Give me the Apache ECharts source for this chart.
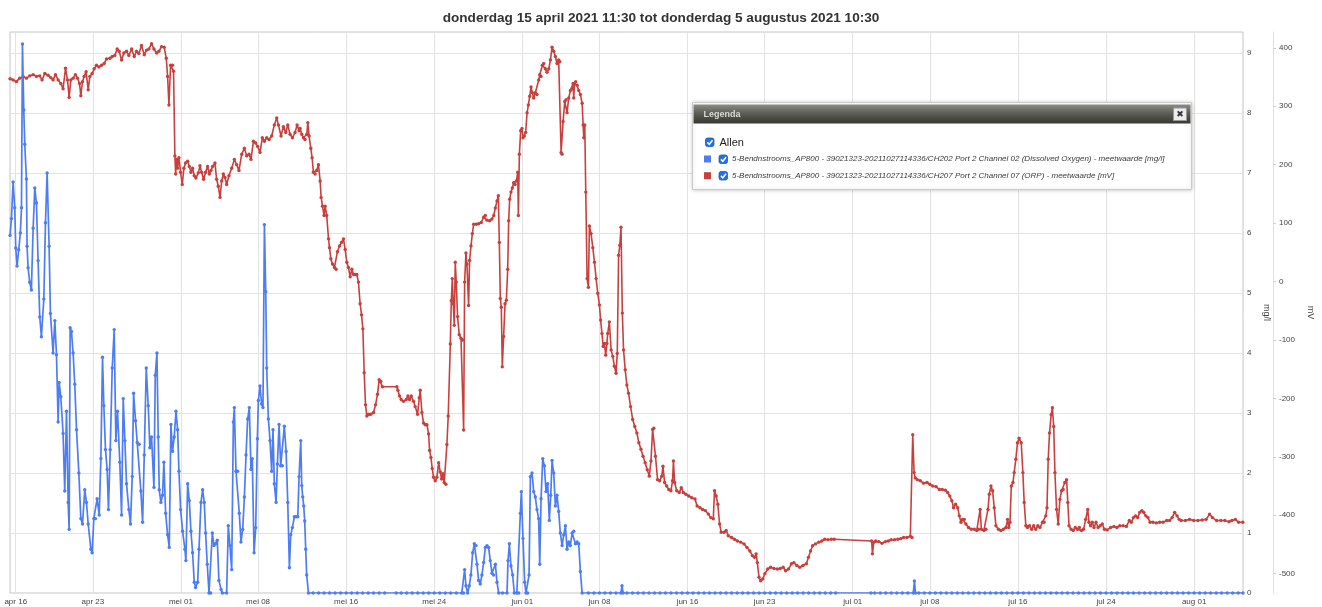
<!DOCTYPE html>
<html>
<head>
<meta charset="utf-8">
<title>Meetwaarden</title>
<script src="https://cdn.jsdelivr.net/npm/echarts@6.0.0/dist/echarts.min.js"></script>
<style>
  html, body { margin: 0; padding: 0; background: #fff; }
  #chart { width: 1322px; height: 607px; }
</style>
</head>
<body>
<div id="chart"></div>
<script>
const titleText = 'donderdag 15 april 2021 11:30 tot donderdag 5 augustus 2021 10:30'
const rangeStart = '2021-04-15 11:30'
const rangeEnd = '2021-08-05 10:30'
// day offsets in the series below count from this moment
const dayZero = '2021-04-16 00:00'

const tickDates = ['2021-04-16', '2021-04-23', '2021-05-01', '2021-05-08', '2021-05-16', '2021-05-24', '2021-06-01', '2021-06-08',
  '2021-06-16', '2021-06-23', '2021-07-01', '2021-07-08', '2021-07-16', '2021-07-24', '2021-08-01']
const tickLabels = ['apr 16', 'apr 23', 'mei 01', 'mei 08', 'mei 16', 'mei 24', 'jun 01', 'jun 08',
  'jun 16', 'jun 23', 'jul 01', 'jul 08', 'jul 16', 'jul 24', 'aug 01']
const mglTicks = [0, 1, 2, 3, 4, 5, 6, 7, 8, 9]
const mvTicks = [-500, -400, -300, -200, -100, 0, 100, 200, 300, 400]

const seriesNames = [
  '5-Bendnstrooms_AP800 - 39021323-20211027114336/CH202 Port 2 Channel 02 (Dissolved Oxygen) - meetwaarde [mg/l]',
  '5-Bendnstrooms_AP800 - 39021323-20211027114336/CH207 Port 2 Channel 07 (ORP) - meetwaarde [mV]'
]

// [day offset, mg/l]
const oxygen = [
  [-0.52, 5.96], [-0.39, 6.24], [-0.24, 6.85], [-0.09, 6.42], [0, 5.75], [0.12, 5.45], [0.27, 5.72], [0.42, 6.0], [0.52, 6.42], [0.61, 9.15],
  [0.73, 8.05], [0.82, 7.48], [0.97, 6.9], [1.03, 5.78], [1.12, 5.42], [1.27, 5.18], [1.42, 5.05], [1.58, 6.08], [1.73, 6.75], [1.88, 6.5],
  [2.03, 5.54], [2.18, 4.6], [2.33, 4.27], [2.55, 4.9], [2.7, 6.17], [2.85, 7.0], [3.03, 5.78], [3.15, 4.66], [3.39, 4.0], [3.55, 4.54],
  [3.7, 3.97], [3.85, 2.85], [3.94, 3.51], [4.09, 3.27], [4.3, 2.66], [4.45, 1.7], [4.61, 3.03], [4.76, 1.51], [4.85, 1.06], [4.94, 4.42],
  [5.06, 4.36], [5.21, 4.0], [5.36, 3.48], [5.52, 2.72], [5.73, 2.0], [5.91, 1.24], [6.06, 1.15], [6.27, 1.72], [6.42, 1.51], [6.58, 1.15],
  [6.82, 0.73], [6.94, 0.67], [7.09, 1.24], [7.24, 1.24], [7.39, 1.57], [7.58, 1.3], [7.73, 2.24], [7.88, 3.93], [8.0, 3.12], [8.15, 2.39],
  [8.3, 2.06], [8.42, 1.39], [8.58, 2.39], [8.76, 3.75], [8.94, 4.39], [9.09, 2.54], [9.24, 3.03], [9.45, 2.18], [9.61, 1.3], [9.76, 3.24],
  [9.91, 2.54], [10.06, 1.82], [10.27, 1.39], [10.42, 1.15], [10.58, 1.94], [10.7, 3.33], [10.88, 2.87], [11.03, 2.51], [11.21, 2.48], [11.36, 1.7],
  [11.52, 1.18], [11.67, 2.3], [11.85, 3.75], [12.03, 3.12], [12.18, 2.42], [12.33, 2.6], [12.55, 1.76], [12.67, 3.63], [12.82, 4.0], [12.94, 2.6],
  [13.03, 1.72], [13.18, 1.51], [13.33, 1.63], [13.45, 2.18], [13.61, 1.33], [13.79, 0.97], [13.94, 0.76], [14.09, 2.81], [14.24, 2.36], [14.39, 2.6],
  [14.55, 3.03], [14.7, 2.72], [14.82, 2.03], [14.97, 1.39], [15.15, 1.03], [15.36, 0.73], [15.45, 0.54], [15.61, 1.82], [15.76, 1.54], [15.91, 1.03],
  [16.06, 0.67], [16.21, 0.18], [16.33, 0.09], [16.52, 0.18], [16.64, 0.73], [16.82, 1.51], [16.97, 1.72], [17.12, 1.51], [17.24, 1.0], [17.39, 0.48],
  [17.55, 0], [17.7, 0], [17.85, 1.0], [18.0, 0.79], [18.15, 0.82], [18.3, 0.88], [18.45, 0.21], [18.64, 0.06], [18.76, 0], [19.15, 0],
  [19.3, 1.12], [19.45, 0.79], [19.61, 0.39], [19.76, 2.85], [19.85, 3.09], [20.0, 2.03], [20.15, 2.03], [20.3, 1.33], [20.45, 0.85], [20.61, 1.06],
  [20.76, 1.6], [20.91, 2.3], [21.06, 2.9], [21.21, 3.09], [21.36, 2.06], [21.48, 2.24], [21.64, 0.67], [21.79, 1.09], [21.94, 2.57], [22.03, 3.21],
  [22.18, 3.45], [22.33, 3.15], [22.45, 3.09], [22.58, 6.14], [22.7, 5.02], [22.79, 3.75], [22.94, 2.9], [23.09, 2.54], [23.24, 2.03], [23.36, 2.72],
  [23.48, 1.82], [23.64, 1.51], [23.76, 2.15], [23.91, 2.81], [24.06, 2.12], [24.21, 2.12], [24.39, 2.78], [24.55, 2.36], [24.7, 1.51], [24.85, 0.42],
  [24.97, 0.97], [25.12, 1.09], [25.3, 1.27], [25.45, 1.27], [25.61, 1.27], [25.73, 1.94], [25.88, 2.54], [25.97, 1.79], [26.06, 1.6], [26.15, 1.45],
  [26.24, 1.2], [26.33, 0.73], [26.42, 0.3], [26.58, 0],
  [27, 0], [27.5, 0], [28, 0], [28.5, 0], [29, 0], [29.5, 0], [30, 0], [30.5, 0], [31, 0], [31.5, 0], [32, 0], [32.5, 0], [33, 0], [33.5, 0],
  [34.55, 0], [35, 0], [35.5, 0], [36, 0], [36.5, 0], [37, 0], [37.5, 0], [38, 0], [38.5, 0], [39, 0], [39.5, 0], [40, 0], [40.5, 0], [40.67, 0],
  [40.76, 0.39], [40.88, 0.12], [41.03, 0], [41.18, 0.12], [41.33, 0.3], [41.49, 0.67], [41.64, 0.82], [41.79, 0.79], [41.88, 0.48], [42.03, 0.21],
  [42.18, 0.15], [42.33, 0.3], [42.49, 0.51], [42.64, 0.76], [42.79, 0.79], [42.94, 0.76], [43.09, 0.54], [43.24, 0.33], [43.39, 0.3], [43.55, 0.48],
  [43.7, 0.18], [43.85, 0], [44.2, 0], [44.61, 0], [44.7, 0.54], [44.82, 0.82], [44.97, 0.45], [45.12, 0.3], [45.27, 0], [45.5, 0],
  [45.67, 0], [45.82, 1.33], [45.91, 1.69], [46.06, 0.91], [46.21, 0.18], [46.33, 0], [46.48, 0], [46.61, 0.3], [46.73, 1.94], [46.88, 2.0],
  [47.03, 1.69], [47.18, 1.6], [47.33, 1.39], [47.48, 1.24], [47.58, 0.48], [47.7, 1.57], [47.85, 2.24], [48.0, 2.12], [48.15, 1.69], [48.3, 1.82],
  [48.45, 1.21], [48.58, 1.63], [48.7, 2.21], [48.85, 2.0], [49.0, 1.45], [49.15, 1.63], [49.3, 1.36], [49.45, 1.0], [49.61, 0.79], [49.76, 0.97],
  [49.91, 1.12], [50.06, 0.73], [50.21, 0.85], [50.36, 0.79], [50.52, 1.0], [50.67, 1.03], [50.82, 0.82], [50.97, 0.85], [51.12, 0.82], [51.27, 0.36],
  [51.43, 0], [52, 0], [52.5, 0], [53, 0], [53.5, 0], [54, 0], [54.5, 0], [54.95, 0], [55.05, 0.12], [55.15, 0],
  [55.5, 0], [56, 0], [56.5, 0], [57, 0], [57.5, 0], [58, 0], [58.5, 0], [59, 0], [59.5, 0], [60, 0],
  [60.5, 0], [61, 0], [61.5, 0], [62, 0], [62.5, 0], [63, 0], [63.5, 0], [64, 0], [64.5, 0], [65, 0],
  [65.5, 0], [66, 0], [66.5, 0], [67, 0], [67.5, 0], [68, 0], [68.5, 0], [69, 0], [69.5, 0], [70, 0],
  [70.5, 0], [71, 0], [71.5, 0], [72, 0], [72.5, 0], [73, 0], [73.5, 0], [74, 0], [74.45, 0],
  [77.65, 0], [78, 0], [78.5, 0], [79, 0], [79.5, 0], [80, 0], [80.5, 0], [81, 0], [81.5, 0], [81.6, 0.2],
  [81.7, 0], [82, 0], [82.5, 0], [83, 0], [83.5, 0], [84, 0], [84.5, 0], [85, 0], [85.5, 0], [86, 0],
  [86.5, 0], [87, 0], [87.5, 0], [88, 0], [88.5, 0], [89, 0], [89.5, 0], [90, 0], [90.5, 0], [91, 0],
  [91.5, 0], [92, 0], [92.5, 0], [93, 0], [93.5, 0], [94, 0], [94.5, 0], [95, 0], [95.5, 0], [96, 0],
  [96.5, 0], [97, 0], [97.5, 0], [98, 0], [98.5, 0], [99, 0], [99.5, 0], [100, 0], [100.5, 0], [101, 0],
  [101.5, 0], [102, 0], [102.5, 0], [103, 0], [103.5, 0], [104, 0], [104.5, 0], [105, 0], [105.5, 0], [106, 0],
  [106.5, 0], [107, 0], [107.5, 0], [108, 0], [108.5, 0], [109, 0], [109.5, 0], [110, 0], [110.5, 0], [111, 0],
  [111.44, 0]
]

// [day offset, mV]
const orp = [
  [-0.52, 347], [-0.24, 345], [0.06, 342], [0.36, 348], [0.67, 351], [0.97, 348], [1.27, 352], [1.58, 354], [1.88, 351], [2.18, 352],
  [2.39, 345], [2.64, 356], [2.94, 353], [3.18, 349], [3.39, 345], [3.61, 354], [3.85, 345], [4.09, 339], [4.3, 330], [4.52, 365],
  [4.7, 345], [4.85, 315], [5.0, 345], [5.21, 348], [5.42, 354], [5.61, 348], [5.79, 339], [5.91, 318], [6.06, 342], [6.21, 351],
  [6.39, 359], [6.58, 328], [6.73, 351], [6.94, 356], [7.12, 364], [7.33, 370], [7.55, 367], [7.79, 370], [8.03, 373], [8.24, 381],
  [8.55, 382], [8.76, 385], [9.0, 387], [9.21, 398], [9.39, 394], [9.61, 379], [9.82, 391], [10.06, 394], [10.27, 387], [10.52, 398],
  [10.76, 385], [10.97, 394], [11.18, 390], [11.42, 404], [11.67, 388], [11.88, 396], [12.09, 398], [12.33, 407], [12.55, 398], [12.79, 391],
  [13.0, 394], [13.24, 402], [13.48, 401], [13.67, 382], [13.79, 351], [13.91, 302], [14.06, 370], [14.24, 370], [14.33, 360], [14.45, 215],
  [14.52, 184], [14.61, 209], [14.7, 194], [14.82, 212], [14.97, 187], [15.12, 166], [15.27, 194], [15.42, 203], [15.61, 206], [15.76, 197],
  [15.91, 187], [16.06, 194], [16.21, 181], [16.36, 177], [16.58, 186], [16.73, 198], [16.88, 187], [17.06, 175], [17.24, 187], [17.42, 197],
  [17.58, 184], [17.73, 190], [17.88, 197], [18.09, 203], [18.24, 175], [18.39, 163], [18.55, 144], [18.7, 172], [18.85, 184], [19.0, 178],
  [19.15, 166], [19.36, 181], [19.61, 194], [19.85, 209], [20.06, 200], [20.27, 190], [20.52, 218], [20.76, 228], [20.97, 215], [21.18, 218],
  [21.36, 209], [21.58, 240], [21.79, 237], [21.97, 231], [22.18, 221], [22.39, 246], [22.58, 240], [22.79, 246], [23.0, 243], [23.24, 249],
  [23.48, 268], [23.7, 280], [23.85, 268], [24.09, 249], [24.3, 265], [24.52, 255], [24.7, 268], [24.91, 252], [25.12, 246], [25.36, 255],
  [25.55, 268], [25.73, 258], [25.82, 262], [25.97, 252], [26.12, 246], [26.27, 243], [26.43, 252], [26.52, 272], [26.64, 249], [26.79, 228],
  [26.91, 212], [27.03, 187], [27.18, 184], [27.33, 190], [27.49, 200], [27.64, 172], [27.73, 144], [27.85, 129], [28.0, 113], [28.09, 129],
  [28.24, 113], [28.4, 73], [28.49, 58], [28.61, 39], [28.76, 30], [28.94, 24], [29.09, 21], [29.21, 51], [29.4, 61], [29.58, 67],
  [29.76, 73], [29.91, 55], [30.06, 33], [30.21, 24], [30.37, 8], [30.52, 21], [30.67, 12], [30.82, 12], [30.97, 12], [31.12, -1],
  [31.27, -38], [31.4, -57], [31.52, -81], [31.64, -156], [31.76, -211], [31.88, -230], [32.03, -227], [32.24, -227], [32.49, -224], [32.67, -211],
  [32.85, -193], [33.0, -168], [33.15, -171], [33.3, -180], [34.61, -180], [34.7, -186], [34.85, -196], [35.0, -202], [35.21, -205], [35.46, -202],
  [35.61, -196], [35.76, -202], [35.91, -196], [36.12, -205], [36.27, -214], [36.49, -227], [36.64, -199], [36.73, -186], [36.88, -224], [37.03, -242],
  [37.18, -245], [37.34, -245], [37.49, -261], [37.58, -289], [37.7, -301], [37.82, -320], [37.94, -335], [38.09, -341], [38.24, -335], [38.4, -310],
  [38.55, -326], [38.67, -338], [38.79, -329], [38.91, -344], [39.06, -347], [39.15, -279], [39.27, -230], [39.46, -107], [39.55, -33], [39.64, 5],
  [39.73, -38], [39.82, -75], [39.91, 33], [40.0, -1], [40.12, -60], [40.27, -91], [40.43, -97], [40.58, -100], [40.67, -254], [40.76, -1],
  [40.88, 49], [40.97, 30], [41.12, -41], [41.21, 36], [41.34, 61], [41.46, 82], [41.58, 98], [41.82, 98], [42.03, 99], [42.27, 101],
  [42.49, 110], [42.64, 113], [42.79, 105], [43.03, 104], [43.24, 107], [43.4, 113], [43.55, 126], [43.7, 138], [43.82, 147], [43.91, 67],
  [44.0, -29], [44.09, -44], [44.18, -146], [44.3, -94], [44.43, -38], [44.55, -32], [44.67, 21], [44.76, 104], [44.85, 141], [44.97, 153],
  [45.09, 160], [45.21, 169], [45.34, 166], [45.46, 172], [45.58, 187], [45.64, 113], [45.73, 218], [45.85, 258], [45.97, 262], [46.06, 246],
  [46.18, 249], [46.3, 255], [46.43, 289], [46.55, 302], [46.67, 317], [46.79, 333], [46.91, 323], [47.03, 314], [47.18, 323], [47.33, 320],
  [47.49, 345], [47.58, 354], [47.7, 351], [47.82, 370], [47.94, 373], [48.09, 364], [48.24, 358], [48.4, 364], [48.55, 379], [48.7, 401],
  [48.85, 394], [49.0, 385], [49.15, 373], [49.3, 379], [49.4, 376], [49.52, 221], [49.61, 218], [49.7, 274], [49.85, 308], [49.97, 311],
  [50.06, 289], [50.21, 314], [50.37, 327], [50.52, 330], [50.61, 339], [50.67, 314], [50.73, 339], [50.85, 342], [50.97, 336], [51.12, 327],
  [51.27, 320], [51.43, 305], [51.52, 268], [51.58, 246], [51.67, 268], [51.76, 153], [51.88, 5], [52.0, -10], [52.09, 95], [52.24, 82],
  [52.4, 58], [52.55, 33], [52.7, 5], [52.85, -20], [53.0, -40], [53.11, -66], [53.23, -89], [53.34, -111], [53.45, -106], [53.57, -126],
  [53.68, -106], [53.75, -89], [53.9, -69], [54.06, -117], [54.21, -128], [54.36, -145], [54.51, -157], [54.62, -123], [54.74, 45], [54.85, 62],
  [54.96, 93], [55.08, -54], [55.19, -117], [55.34, -151], [55.49, -177], [55.64, -191], [55.83, -214], [56.02, -236], [56.21, -248], [56.4, -259],
  [56.58, -276], [56.77, -287], [56.96, -299], [57.15, -310], [57.34, -322], [57.53, -333], [57.68, -307], [57.83, -253], [57.94, -251], [58.09, -299],
  [58.28, -339], [58.47, -341], [58.66, -333], [58.77, -316], [58.92, -344], [59.11, -350], [59.3, -356], [59.49, -358], [59.64, -341], [59.72, -307],
  [59.83, -344], [60.02, -358], [60.25, -361], [60.43, -353], [60.62, -361], [60.85, -364], [61.11, -367], [61.38, -370], [61.68, -372], [61.87, -384],
  [62.13, -387], [62.36, -390], [62.62, -392], [62.89, -398], [63.11, -404], [63.34, -406], [63.45, -358], [63.6, -367], [63.75, -381], [63.91, -415],
  [64.06, -429], [64.32, -429], [64.51, -426], [64.7, -435], [65.0, -438], [65.26, -441], [65.53, -444], [65.83, -446], [66.13, -449], [66.4, -455],
  [66.66, -461], [66.89, -469], [67.08, -472], [67.23, -466], [67.34, -481], [67.49, -506], [67.64, -512], [67.83, -509], [68.02, -500], [68.28, -492],
  [68.55, -489], [68.85, -491], [69.15, -492], [69.42, -491], [69.68, -489], [69.91, -495], [70.17, -492], [70.43, -483], [70.66, -481], [70.92, -486],
  [71.19, -489], [71.49, -486], [71.79, -483], [71.98, -472], [72.17, -461], [72.36, -452], [72.62, -449], [72.92, -446], [73.19, -444], [73.45, -441],
  [73.75, -442], [74.06, -441], [74.32, -441], [77.72, -444], [77.79, -466], [77.91, -446], [78.09, -444], [78.36, -445], [78.66, -448], [78.96, -445],
  [79.23, -444], [79.49, -442], [79.79, -442], [80.09, -441], [80.36, -440], [80.62, -438], [80.92, -438], [81.23, -436], [81.38, -438], [81.45, -262],
  [81.57, -327], [81.68, -336], [81.87, -339], [82.13, -341], [82.43, -345], [82.74, -344], [83.0, -347], [83.26, -350], [83.57, -351], [83.87, -356],
  [84.13, -356], [84.4, -357], [84.62, -361], [84.81, -367], [85.0, -375], [85.15, -387], [85.34, -381], [85.53, -387], [85.68, -401], [85.83, -412],
  [85.98, -407], [86.13, -407], [86.28, -415], [86.51, -421], [86.77, -424], [87.04, -424], [87.26, -426], [87.42, -424], [87.57, -390], [87.68, -424],
  [87.91, -426], [88.09, -424], [88.28, -390], [88.4, -364], [88.55, -350], [88.7, -358], [88.85, -387], [89.0, -418], [89.23, -424], [89.45, -426],
  [89.68, -424], [89.91, -421], [90.06, -407], [90.17, -421], [90.28, -412], [90.4, -350], [90.55, -344], [90.66, -327], [90.81, -304], [90.96, -276],
  [91.11, -268], [91.3, -276], [91.45, -327], [91.57, -378], [91.72, -418], [91.87, -421], [92.06, -418], [92.25, -424], [92.43, -418], [92.62, -424],
  [92.81, -418], [93.0, -421], [93.23, -412], [93.38, -412], [93.53, -401], [93.64, -387], [93.75, -304], [93.87, -259], [94.02, -228], [94.13, -216],
  [94.25, -248], [94.36, -327], [94.51, -390], [94.66, -415], [94.81, -373], [94.96, -358], [95.11, -356], [95.26, -344], [95.42, -339], [95.53, -378],
  [95.64, -418], [95.83, -424], [96.02, -426], [96.21, -421], [96.4, -424], [96.58, -421], [96.77, -426], [96.96, -424], [97.15, -407], [97.34, -390],
  [97.45, -412], [97.6, -418], [97.75, -412], [97.91, -421], [98.09, -412], [98.28, -421], [98.47, -418], [98.66, -415], [98.85, -424], [99.11, -425],
  [99.42, -421], [99.72, -419], [99.98, -421], [100.25, -418], [100.55, -418], [100.85, -419], [101.11, -409], [101.3, -412], [101.49, -404], [101.68, -401],
  [101.87, -404], [102.06, -395], [102.25, -392], [102.43, -395], [102.62, -401], [102.81, -404], [103.0, -412], [103.26, -412], [103.57, -413], [103.87, -412],
  [104.17, -412], [104.51, -409], [104.77, -409], [105.0, -404], [105.23, -395], [105.45, -401], [105.64, -407], [105.83, -409], [106.21, -409], [106.58, -407],
  [106.96, -409], [107.34, -409], [107.72, -408], [108.09, -407], [108.4, -398], [108.66, -404], [109.04, -409], [109.42, -409], [109.79, -409], [110.17, -411],
  [110.43, -409], [110.74, -407], [111.04, -412], [111.42, -412]
]

const blue = '#4d7cf4'
const red = '#c8403d'
const DAY = 86400000

const toTime = (s) => {
  const [d, t] = s.split(' ')
  const [y, m, dd] = d.split('-').map(Number)
  const [hh, mm] = (t || '00:00').split(':').map(Number)
  return new Date(y, m - 1, dd, hh, mm).getTime()
}
const t0 = toTime(dayZero)
const toPoints = (list) => list.map(p => [t0 + p[0] * DAY, p[1]])
const tickTimes = tickDates.map(toTime)

// legend popup sits above the grid lines
const TOP = 100

const checkbox = (x, y) => ({
  type: 'group',
  x: x,
  y: y,
  children: [
    { type: 'rect', z: TOP, shape: { x: 0, y: 0, width: 8.5, height: 8.5, r: 2 }, style: { fill: '#2271e6', stroke: '#1a5cbf', lineWidth: 0.8 } },
    { type: 'polyline', z: TOP, shape: { points: [[1.9, 4.4], [3.8, 6.3], [7, 2.2]] }, style: { stroke: '#fff', lineWidth: 1.5, fill: null } }
  ]
})

const chart = echarts.init(document.getElementById('chart'))
chart.setOption({
  animation: false,
  backgroundColor: '#fff',
  textStyle: { fontFamily: 'Liberation Sans, Arial, sans-serif' },
  title: {
    text: titleText,
    left: 'center',
    top: 6,
    textStyle: { fontSize: 13.6, fontWeight: 'bold', color: '#333' }
  },
  grid: {
    left: 10,
    right: 79,
    top: 32,
    bottom: 14,
    containLabel: false,
    outerBoundsMode: 'none',
    show: true,
    borderColor: '#c4c4c4',
    borderWidth: 1
  },
  legend: {
    orient: 'vertical',
    left: 704,
    top: 155,
    padding: 0,
    itemWidth: 7,
    itemHeight: 7,
    itemGap: 8.7,
    icon: 'rect',
    selectedMode: false,
    z: TOP + 1,
    data: seriesNames,
    formatter: (name) => '{g|}' + name,
    textStyle: {
      fontSize: 8,
      fontStyle: 'italic',
      color: '#3a3a3a',
      rich: { g: { width: 16 } }
    }
  },
  xAxis: {
    // timestamps on a plain value axis, ticks on the dates the original shows
    type: 'value',
    min: toTime(rangeStart),
    max: toTime(rangeEnd),
    axisLine: { show: false },
    axisTick: { show: false, customValues: tickTimes },
    axisLabel: {
      customValues: tickTimes,
      fontSize: 8,
      color: '#444',
      margin: 5,
      formatter: (val) => tickLabels[tickTimes.indexOf(val)] || ''
    },
    splitLine: { show: true, lineStyle: { color: '#e3e3e3', width: 1 } }
  },
  yAxis: [
    {
      type: 'value',
      position: 'right',
      min: 0,
      max: 9.35,
      name: 'mg/l',
      nameLocation: 'middle',
      nameRotate: -90,
      nameGap: 17,
      nameTextStyle: { fontSize: 9, color: '#444' },
      axisLine: { show: false },
      axisTick: { show: false, customValues: mglTicks },
      axisLabel: { customValues: mglTicks, fontSize: 8, color: '#444', margin: 4 },
      splitLine: { show: true, lineStyle: { color: '#e3e3e3', width: 1 } }
    },
    {
      type: 'value',
      position: 'right',
      offset: 30,
      min: -533,
      max: 427,
      name: 'mV',
      nameLocation: 'middle',
      nameRotate: -90,
      nameGap: 28,
      nameTextStyle: { fontSize: 9, color: '#444' },
      axisLine: { show: true, lineStyle: { color: '#e0e0e0', width: 1 } },
      axisTick: { show: true, length: 3, customValues: mvTicks, lineStyle: { color: '#cfcfcf' } },
      axisLabel: { customValues: mvTicks, fontSize: 8, color: '#444', margin: 6 },
      splitLine: { show: false }
    }
  ],
  graphic: [
    {
      type: 'group',
      left: 692,
      top: 102,
      children: [
        { type: 'rect', z: TOP, shape: { x: 0, y: 0, width: 499, height: 87 }, style: { fill: '#fff', stroke: '#cacaca', lineWidth: 1, shadowBlur: 4, shadowColor: 'rgba(0,0,0,0.2)' } },
        {
          type: 'rect',
          z: TOP,
          shape: { x: 1, y: 2, width: 497, height: 19 },
          style: {
            fill: new echarts.graphic.LinearGradient(0, 0, 0, 1, [
              { offset: 0, color: '#8c8c86' },
              { offset: 0.5, color: '#5a5a54' },
              { offset: 1, color: '#383833' }
            ])
          }
        },
        { type: 'text', z: TOP, x: 11, y: 12, style: { text: 'Legenda', fill: '#d8d8d4', font: 'bold 9px Liberation Sans', verticalAlign: 'middle' } },
        { type: 'rect', z: TOP, shape: { x: 481, y: 5.5, width: 13, height: 12.5 }, style: { fill: '#ececec', stroke: '#9a9a9a', lineWidth: 1 } },
        { type: 'text', z: TOP, x: 487.5, y: 12, style: { text: '✖', fill: '#333', font: 'bold 9px DejaVu Sans', align: 'center', verticalAlign: 'middle' } },
        checkbox(13, 35.5),
        { type: 'text', z: TOP, x: 27, y: 40, style: { text: 'Allen', fill: '#222', font: '11px Liberation Sans', verticalAlign: 'middle' } },
        checkbox(26.5, 52.5),
        checkbox(26.5, 69)
      ]
    }
  ],
  series: [
    {
      name: seriesNames[1],
      type: 'line',
      yAxisIndex: 1,
      data: toPoints(orp),
      color: red,
      symbol: 'circle',
      symbolSize: 3.4,
      showSymbol: true,
      showAllSymbol: true,
      lineStyle: { width: 1.6, color: red },
      itemStyle: { color: red },
      emphasis: { disabled: true },
      z: 2
    },
    {
      name: seriesNames[0],
      type: 'line',
      yAxisIndex: 0,
      data: toPoints(oxygen),
      color: blue,
      symbol: 'circle',
      symbolSize: 3.4,
      showSymbol: true,
      showAllSymbol: true,
      lineStyle: { width: 1.7, color: blue },
      itemStyle: { color: blue },
      emphasis: { disabled: true },
      z: 3
    }
  ]
})
</script>
</body>
</html>
